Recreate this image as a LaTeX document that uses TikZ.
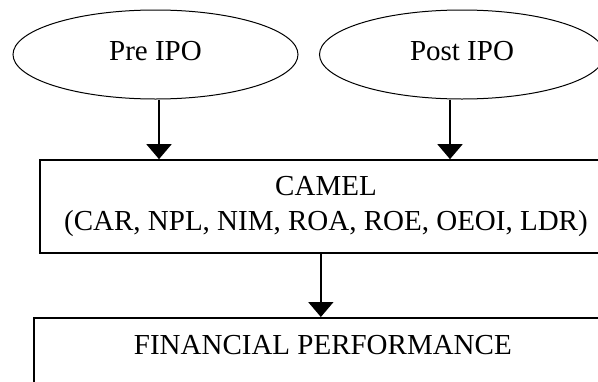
\documentclass[tikz,border=0pt]{standalone}
\usepackage{fontspec}
\setmainfont{Liberation Serif}
\usetikzlibrary{arrows.meta,shapes.geometric}

\begin{document}
\begin{tikzpicture}[x=1pt,y=-1pt,->,>={Triangle[width=25pt,length=15pt]},line width=2pt,
		phase node/.style={ellipse,draw,line width=1pt,minimum width=285pt,minimum height=89pt,text depth=8pt,font=\fontsize{29}{35}\selectfont},
		main node/.style={rectangle,draw,line width=1.7pt,align=center,font=\fontsize{29}{35}\selectfont}]
		\clip (0,0) rectangle (598,381);

		\node[phase node] (1) at (155.5,54.5) {Pre IPO};
		\node[phase node] (2) at (462,54.5) {Post IPO};
		\node[main node,minimum width=572pt,minimum height=93pt] (3) at (326,206.5) {CAMEL\\(CAR, NPL, NIM, ROA, ROE, OEOI, LDR)};
		\node[main node,anchor=north west,minimum width=578pt,inner ysep=17pt,text height=20pt,text depth=40pt] (4) at (33,317) {FINANCIAL PERFORMANCE};

		\path
		([xshift=3.5pt]1.south) edge ([xshift=3.5pt]1.south |- 3.north)
		([xshift=-12pt]2.south) edge ([xshift=-12pt]2.south |- 3.north)
		([xshift=-2pt]4.north |- 3.south) edge ([xshift=-2pt]4.north);
	\end{tikzpicture}
\end{document}
